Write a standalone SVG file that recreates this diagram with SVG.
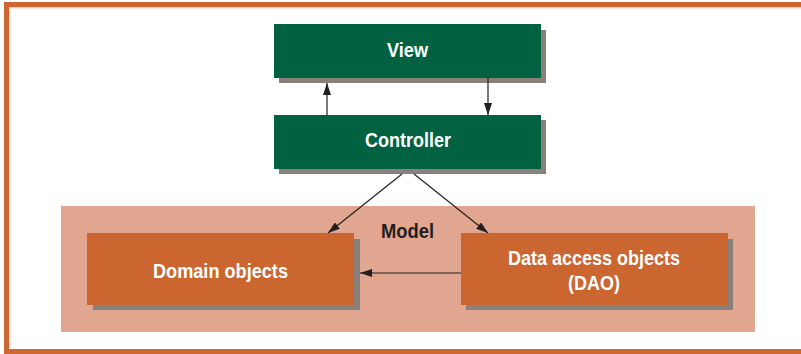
<svg xmlns="http://www.w3.org/2000/svg" width="801" height="354" viewBox="0 0 801 354">
<style>
.frame{fill:#cd6631}
.shadow{fill:#888079}
.green{fill:#006241}
.orange{fill:#cc6630}
.model{fill:#e1a690}
.lbl{font-family:"Liberation Sans",Arial,sans-serif;font-weight:bold;font-size:21px;text-anchor:middle}
.w{fill:#ffffff}
.k{fill:#231f20}
.conn{stroke:#231f20;stroke-width:1.2;fill:none;marker-end:url(#ah)}
</style>
<defs>
<marker id="ah" viewBox="0 0 12 8" refX="12" refY="4" markerWidth="12" markerHeight="8" markerUnits="userSpaceOnUse" orient="auto">
<path d="M0,0 L12,4 L0,8 Z" fill="#231f20"/>
</marker>
</defs>
<rect width="801" height="354" fill="#ffffff"/>
<g id="frame">
<rect x="9" y="7" width="792" height="1.5" fill="#f6d3c2"/>
<rect x="9" y="7" width="1.5" height="341" fill="#f6d3c2"/>
<rect class="frame" x="4" y="2" width="797" height="5"/>
<rect class="frame" x="4" y="2" width="5" height="352"/>
<rect class="frame" x="4" y="349" width="797" height="5"/>
</g>
<g id="model">
<rect class="model" x="61" y="206" width="694" height="126"/>
<text class="lbl k" x="407.5" y="238" textLength="53" lengthAdjust="spacingAndGlyphs">Model</text>
</g>
<g id="view">
<rect class="shadow" x="279" y="30" width="267" height="53"/>
<rect class="green" x="274" y="24" width="267" height="54"/>
<text class="lbl w" x="407.5" y="57" textLength="41" lengthAdjust="spacingAndGlyphs">View</text>
</g>
<g id="controller">
<rect class="shadow" x="279" y="120" width="267" height="54"/>
<rect class="green" x="274" y="115" width="267" height="54"/>
<text class="lbl w" x="408" y="147" textLength="86" lengthAdjust="spacingAndGlyphs">Controller</text>
</g>
<g id="domain">
<rect class="shadow" x="93" y="239" width="267" height="71"/>
<rect class="orange" x="87" y="233" width="267" height="72"/>
<text class="lbl w" x="220.5" y="278" textLength="135" lengthAdjust="spacingAndGlyphs">Domain objects</text>
</g>
<g id="dao">
<rect class="shadow" x="466" y="239" width="267" height="71"/>
<rect class="orange" x="461" y="233" width="267" height="72"/>
<text class="lbl w" x="594" y="265" textLength="172" lengthAdjust="spacingAndGlyphs">Data access objects</text>
<text class="lbl w" x="594" y="290" textLength="52" lengthAdjust="spacingAndGlyphs">(DAO)</text>
</g>
<g id="connectors">
<line class="conn" x1="327" y1="115" x2="327" y2="83"/>
<line class="conn" x1="488" y1="78" x2="488" y2="115"/>
<line class="conn" x1="402" y1="174" x2="328" y2="233"/>
<line class="conn" x1="414" y1="174" x2="488" y2="233"/>
<line class="conn" x1="461" y1="273" x2="360" y2="273"/>
</g>
</svg>
